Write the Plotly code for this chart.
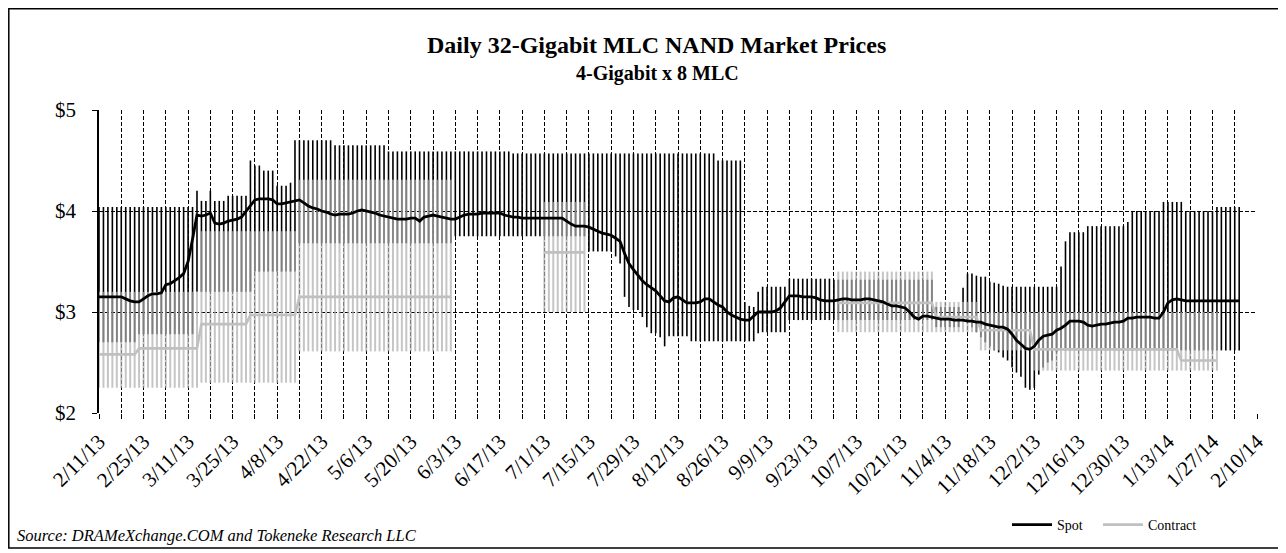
import pandas as pd
import plotly.graph_objects as go

# ---------------- data (one value per weekday, 2/11/13 .. 2/4/14) ----------------
dates = pd.bdate_range("2013-02-11", "2014-02-10")  # x categories (weekdays)

spot = [
    3.15, 3.15, 3.15, 3.15, 3.15,
    3.15, 3.13, 3.11, 3.10, 3.10,
    3.13, 3.16, 3.18, 3.18, 3.19,
    3.27, 3.28, 3.31, 3.34, 3.38,
    3.50, 3.72, 3.96, 3.95, 3.96,
    3.98, 3.88, 3.87, 3.88, 3.90,
    3.91, 3.92, 3.94, 4.00, 4.06,
    4.11, 4.12, 4.12, 4.12, 4.11,
    4.07, 4.07, 4.08, 4.09, 4.10,
    4.11, 4.08, 4.05, 4.03, 4.02,
    4.00, 3.99, 3.97, 3.96, 3.97,
    3.97, 3.97, 3.98, 4.00, 4.01,
    4.00, 3.99, 3.98, 3.96, 3.95,
    3.94, 3.93, 3.92, 3.92, 3.92,
    3.93, 3.93, 3.90, 3.94, 3.95,
    3.96, 3.95, 3.94, 3.93, 3.92,
    3.92, 3.94, 3.96, 3.97, 3.97,
    3.97, 3.98, 3.98, 3.98, 3.98,
    3.98, 3.96, 3.95, 3.94, 3.94,
    3.93, 3.93, 3.93, 3.93, 3.93,
    3.93, 3.93, 3.93, 3.93, 3.93,
    3.90, 3.87, 3.85, 3.85, 3.85,
    3.84, 3.82, 3.80, 3.78, 3.77,
    3.76, 3.73, 3.70, 3.58, 3.48,
    3.42, 3.36, 3.31, 3.27, 3.24,
    3.21, 3.16, 3.11, 3.10, 3.14,
    3.15, 3.12, 3.09, 3.09, 3.09,
    3.10, 3.13, 3.13, 3.10, 3.07,
    3.05, 3.00, 2.97, 2.95, 2.93,
    2.92, 2.92, 2.96, 3.00, 3.00,
    3.00, 3.00, 3.01, 3.04, 3.10,
    3.16, 3.16, 3.16, 3.15, 3.15,
    3.15, 3.14, 3.12, 3.11, 3.11,
    3.11, 3.12, 3.13, 3.13, 3.12,
    3.12, 3.12, 3.13, 3.13, 3.12,
    3.11, 3.10, 3.08, 3.06, 3.06,
    3.05, 3.04, 3.00, 2.95, 2.93,
    2.96, 2.96, 2.95, 2.94, 2.93,
    2.93, 2.93, 2.92, 2.92, 2.92,
    2.91, 2.91, 2.90, 2.90, 2.88,
    2.87, 2.86, 2.85, 2.85, 2.83,
    2.78, 2.72, 2.68, 2.64, 2.63,
    2.66, 2.72, 2.76, 2.77, 2.78,
    2.82, 2.84, 2.87, 2.91, 2.91,
    2.91, 2.90, 2.87, 2.86, 2.87,
    2.88, 2.88, 2.89, 2.90, 2.90,
    2.91, 2.94, 2.94, 2.95, 2.95,
    2.95, 2.95, 2.94, 2.94, 3.00,
    3.09, 3.12, 3.13, 3.12, 3.11,
    3.11, 3.11, 3.11, 3.11, 3.11,
    3.11, 3.11, 3.11, 3.11, 3.11,
    3.11, 3.11,
]

spot_high = [
    4.04, 4.04, 4.04, 4.04, 4.04,
    4.04, 4.04, 4.04, 4.04, 4.04,
    4.04, 4.04, 4.04, 4.04, 4.04,
    4.04, 4.04, 4.04, 4.04, 4.04,
    4.04, 4.04, 4.20, 4.10, 4.10,
    4.20, 4.10, 4.10, 4.10, 4.15,
    4.15, 4.15, 4.15, 4.15, 4.50,
    4.45, 4.45, 4.40, 4.40, 4.40,
    4.25, 4.25, 4.25, 4.28, 4.70,
    4.70, 4.70, 4.70, 4.70, 4.70,
    4.70, 4.70, 4.70, 4.65, 4.65,
    4.65, 4.65, 4.65, 4.65, 4.65,
    4.65, 4.65, 4.65, 4.65, 4.65,
    4.59, 4.59, 4.59, 4.59, 4.59,
    4.59, 4.59, 4.59, 4.59, 4.59,
    4.59, 4.59, 4.59, 4.59, 4.59,
    4.59, 4.59, 4.59, 4.59, 4.59,
    4.59, 4.59, 4.59, 4.59, 4.59,
    4.59, 4.59, 4.59, 4.57, 4.57,
    4.57, 4.57, 4.57, 4.57, 4.57,
    4.57, 4.57, 4.57, 4.57, 4.57,
    4.57, 4.57, 4.57, 4.57, 4.57,
    4.57, 4.57, 4.57, 4.57, 4.57,
    4.57, 4.57, 4.57, 4.57, 4.57,
    4.57, 4.57, 4.57, 4.57, 4.57,
    4.57, 4.57, 4.57, 4.57, 4.57,
    4.57, 4.57, 4.57, 4.57, 4.57,
    4.57, 4.57, 4.57, 4.57, 4.50,
    4.50, 4.50, 4.50, 4.50, 4.50,
    3.10, 3.06, 3.05, 3.20, 3.25,
    3.25, 3.25, 3.25, 3.25, 3.25,
    3.33, 3.33, 3.33, 3.33, 3.33,
    3.33, 3.33, 3.33, 3.33, 3.33,
    3.32, 3.32, 3.32, 3.32, 3.32,
    3.32, 3.32, 3.32, 3.32, 3.32,
    3.32, 3.32, 3.32, 3.32, 3.32,
    3.32, 3.32, 3.32, 3.32, 3.32,
    3.32, 3.32, 3.32, 3.05, 3.05,
    3.05, 3.05, 3.05, 3.05, 3.24,
    3.38, 3.38, 3.36, 3.35, 3.35,
    3.30, 3.29, 3.28, 3.26, 3.25,
    3.25, 3.25, 3.25, 3.25, 3.25,
    3.25, 3.25, 3.25, 3.25, 3.25,
    3.25, 3.45, 3.70, 3.79, 3.79,
    3.79, 3.79, 3.85, 3.85, 3.85,
    3.85, 3.85, 3.85, 3.85, 3.85,
    3.85, 3.89, 4.00, 4.00, 4.00,
    4.00, 4.00, 4.00, 4.00, 4.09,
    4.09, 4.09, 4.09, 4.09, 4.00,
    4.00, 4.00, 4.00, 4.00, 4.00,
    4.00, 4.04, 4.04, 4.04, 4.04,
    4.04, 4.04,
]

spot_low = [
    2.70, 2.70, 2.70, 2.70, 2.70,
    2.70, 2.70, 2.70, 2.70, 2.78,
    2.78, 2.78, 2.78, 2.78, 2.78,
    2.78, 2.78, 2.78, 2.78, 2.78,
    2.78, 2.78, 3.20, 3.20, 3.20,
    3.20, 3.20, 3.20, 3.20, 3.20,
    3.20, 3.20, 3.20, 3.20, 3.20,
    3.40, 3.40, 3.40, 3.40, 3.40,
    3.40, 3.40, 3.40, 3.40, 3.40,
    3.68, 3.68, 3.68, 3.68, 3.68,
    3.68, 3.68, 3.68, 3.68, 3.68,
    3.68, 3.68, 3.68, 3.68, 3.68,
    3.68, 3.68, 3.68, 3.68, 3.68,
    3.68, 3.68, 3.68, 3.68, 3.68,
    3.68, 3.68, 3.68, 3.68, 3.68,
    3.68, 3.68, 3.68, 3.68, 3.68,
    3.75, 3.75, 3.75, 3.75, 3.75,
    3.75, 3.75, 3.75, 3.75, 3.75,
    3.75, 3.75, 3.75, 3.75, 3.75,
    3.75, 3.75, 3.75, 3.75, 3.75,
    3.75, 3.75, 3.75, 3.75, 3.75,
    3.75, 3.75, 3.75, 3.75, 3.75,
    3.60, 3.60, 3.60, 3.60, 3.60,
    3.60, 3.55, 3.48, 3.15, 3.05,
    3.02, 3.02, 2.95, 2.85, 2.79,
    2.79, 2.75, 2.66, 2.76, 2.76,
    2.76, 2.76, 2.76, 2.71, 2.71,
    2.71, 2.71, 2.71, 2.71, 2.71,
    2.71, 2.71, 2.71, 2.71, 2.71,
    2.71, 2.71, 2.71, 2.79, 2.80,
    2.80, 2.80, 2.80, 2.80, 2.80,
    2.92, 2.92, 2.92, 2.92, 2.92,
    2.92, 2.92, 2.92, 2.92, 2.92,
    2.92, 2.92, 2.92, 2.92, 2.92,
    2.92, 2.92, 2.92, 2.92, 2.92,
    2.92, 2.92, 2.92, 2.92, 2.92,
    2.92, 2.92, 2.92, 2.92, 2.92,
    2.92, 2.92, 2.92, 2.85, 2.85,
    2.85, 2.85, 2.85, 2.85, 2.95,
    2.90, 2.85, 2.80, 2.75, 2.70,
    2.66, 2.62, 2.60, 2.55, 2.52,
    2.45, 2.40, 2.36, 2.25, 2.23,
    2.25, 2.38, 2.45, 2.50, 2.52,
    2.60, 2.62, 2.62, 2.62, 2.62,
    2.62, 2.62, 2.62, 2.62, 2.62,
    2.62, 2.62, 2.62, 2.62, 2.62,
    2.62, 2.62, 2.62, 2.62, 2.62,
    2.62, 2.62, 2.62, 2.62, 2.62,
    2.62, 2.62, 2.62, 2.62, 2.62,
    2.62, 2.62, 2.62, 2.62, 2.62,
    2.62, 2.62, 2.62, 2.62, 2.62,
    2.62, 2.62,
]

N = None
contract = [
    2.58, 2.58, 2.58, 2.58, 2.58,
    2.58, 2.58, 2.58, 2.58, 2.64,
    2.64, 2.64, 2.64, 2.64, 2.64,
    2.64, 2.64, 2.64, 2.64, 2.64,
    2.64, 2.64, 2.64, 2.88, 2.88,
    2.88, 2.88, 2.88, 2.88, 2.88,
    2.88, 2.88, 2.88, 2.88, 2.97,
    2.97, 2.97, 2.97, 2.97, 2.97,
    2.97, 2.97, 2.97, 2.97, 2.97,
    3.15, 3.15, 3.15, 3.15, 3.15,
    3.15, 3.15, 3.15, 3.15, 3.15,
    3.15, 3.15, 3.15, 3.15, 3.15,
    3.15, 3.15, 3.15, 3.15, 3.15,
    3.15, 3.15, 3.15, 3.15, 3.15,
    3.15, 3.15, 3.15, 3.15, 3.15,
    3.15, 3.15, 3.15, 3.15, 3.15,
    N, N, N, N, N,
    N, N, N, N, N,
    N, N, N, N, N,
    N, N, N, N, N,
    3.59, 3.59, 3.59, 3.59, 3.59,
    3.59, 3.59, 3.59, 3.59, 3.59,
    N, N, N, N, N,
    N, N, N, N, N,
    N, N, N, N, N,
    N, N, N, N, N,
    N, N, N, N, N,
    N, N, N, N, N,
    N, N, N, N, N,
    N, N, N, N, N,
    N, N, N, N, N,
    N, N, N, N, N,
    N, N, N, N, N,
    N, 3.09, 3.09, 3.09, 3.09,
    3.09, 3.09, 3.09, 3.09, 3.09,
    3.09, 3.09, 3.09, 3.09, 3.09,
    3.09, 3.09, 3.09, 3.09, 3.09,
    3.09, 3.09, 3.09, 2.95, 2.95,
    2.95, 2.95, 2.95, 2.95, 2.95,
    2.95, 2.95, 2.95, 2.82, 2.82,
    2.82, 2.82, 2.82, 2.82, 2.82,
    2.82, 2.82, 2.82, 2.82, 2.82,
    2.63, 2.63, 2.63, 2.63, 2.63,
    2.63, 2.63, 2.63, 2.63, 2.63,
    2.63, 2.63, 2.63, 2.63, 2.63,
    2.63, 2.63, 2.63, 2.63, 2.63,
    2.63, 2.63, 2.63, 2.63, 2.63,
    2.63, 2.63, 2.63, 2.63, 2.63,
    2.63, 2.63, 2.63, 2.52, 2.52,
    2.52, 2.52, 2.52, 2.52, 2.52,
    2.52, 2.52, N, N, N,
    N, N,
]

contract_high = [
    3.20, 3.20, 3.20, 3.20, 3.20,
    3.20, 3.20, 3.20, 3.20, 3.20,
    3.20, 3.20, 3.20, 3.20, 3.20,
    3.20, 3.20, 3.20, 3.20, 3.20,
    3.20, 3.20, 3.20, 3.80, 3.80,
    3.80, 3.80, 3.80, 3.80, 3.80,
    3.80, 3.80, 3.80, 3.80, 3.80,
    3.80, 3.80, 3.80, 3.80, 3.80,
    3.80, 3.80, 3.80, 3.80, 3.80,
    4.31, 4.31, 4.31, 4.31, 4.31,
    4.31, 4.31, 4.31, 4.31, 4.31,
    4.31, 4.31, 4.31, 4.31, 4.31,
    4.31, 4.31, 4.31, 4.31, 4.31,
    4.31, 4.31, 4.31, 4.31, 4.31,
    4.31, 4.31, 4.31, 4.31, 4.31,
    4.31, 4.31, 4.31, 4.31, 4.31,
    N, N, N, N, N,
    N, N, N, N, N,
    N, N, N, N, N,
    N, N, N, N, N,
    4.09, 4.09, 4.09, 4.09, 4.09,
    4.09, 4.09, 4.09, 4.09, 4.09,
    N, N, N, N, N,
    N, N, N, N, N,
    N, N, N, N, N,
    N, N, N, N, N,
    N, N, N, N, N,
    N, N, N, N, N,
    N, N, N, N, N,
    N, N, N, N, N,
    N, N, N, N, N,
    N, N, N, N, N,
    N, N, N, N, N,
    N, 3.40, 3.40, 3.40, 3.40,
    3.40, 3.40, 3.40, 3.40, 3.40,
    3.40, 3.40, 3.40, 3.40, 3.40,
    3.40, 3.40, 3.40, 3.40, 3.40,
    3.40, 3.40, 3.40, 3.10, 3.10,
    3.10, 3.10, 3.10, 3.10, 3.10,
    3.10, 3.10, 3.10, 3.00, 3.00,
    3.00, 3.00, 3.00, 3.00, 3.00,
    3.00, 3.00, 3.00, 3.00, 3.00,
    3.00, 3.00, 3.00, 3.00, 3.00,
    3.00, 3.00, 3.00, 3.00, 3.00,
    3.00, 3.00, 3.00, 3.00, 3.00,
    3.00, 3.00, 3.00, 3.00, 3.00,
    3.00, 3.00, 3.00, 3.00, 3.00,
    3.00, 3.00, 3.00, 3.00, 3.00,
    3.00, 3.00, 3.00, 3.00, 3.00,
    3.00, 3.00, 3.00, 3.00, 3.00,
    3.00, 3.00, N, N, N,
    N, N,
]

contract_low = [
    2.25, 2.25, 2.25, 2.25, 2.25,
    2.25, 2.25, 2.25, 2.25, 2.25,
    2.25, 2.25, 2.25, 2.25, 2.25,
    2.25, 2.25, 2.25, 2.25, 2.25,
    2.25, 2.25, 2.25, 2.30, 2.30,
    2.30, 2.30, 2.30, 2.30, 2.30,
    2.30, 2.30, 2.30, 2.30, 2.30,
    2.30, 2.30, 2.30, 2.30, 2.30,
    2.30, 2.30, 2.30, 2.30, 2.30,
    2.61, 2.61, 2.61, 2.61, 2.61,
    2.61, 2.61, 2.61, 2.61, 2.61,
    2.61, 2.61, 2.61, 2.61, 2.61,
    2.61, 2.61, 2.61, 2.61, 2.61,
    2.61, 2.61, 2.61, 2.61, 2.61,
    2.61, 2.61, 2.61, 2.61, 2.61,
    2.61, 2.61, 2.61, 2.61, 2.61,
    N, N, N, N, N,
    N, N, N, N, N,
    N, N, N, N, N,
    N, N, N, N, N,
    3.00, 3.00, 3.00, 3.00, 3.00,
    3.00, 3.00, 3.00, 3.00, 3.00,
    N, N, N, N, N,
    N, N, N, N, N,
    N, N, N, N, N,
    N, N, N, N, N,
    N, N, N, N, N,
    N, N, N, N, N,
    N, N, N, N, N,
    N, N, N, N, N,
    N, N, N, N, N,
    N, N, N, N, N,
    N, N, N, N, N,
    N, 2.80, 2.80, 2.80, 2.80,
    2.80, 2.80, 2.80, 2.80, 2.80,
    2.80, 2.80, 2.80, 2.80, 2.80,
    2.80, 2.80, 2.80, 2.80, 2.80,
    2.80, 2.80, 2.80, 2.80, 2.80,
    2.80, 2.80, 2.80, 2.80, 2.80,
    2.80, 2.80, 2.80, 2.62, 2.62,
    2.62, 2.62, 2.62, 2.62, 2.62,
    2.62, 2.62, 2.62, 2.62, 2.62,
    2.42, 2.42, 2.42, 2.42, 2.42,
    2.42, 2.42, 2.42, 2.42, 2.42,
    2.42, 2.42, 2.42, 2.42, 2.42,
    2.42, 2.42, 2.42, 2.42, 2.42,
    2.42, 2.42, 2.42, 2.42, 2.42,
    2.42, 2.42, 2.42, 2.42, 2.42,
    2.42, 2.42, 2.42, 2.42, 2.42,
    2.42, 2.42, 2.42, 2.42, 2.42,
    2.42, 2.42, N, N, N,
    N, N,
]

tick_labels = [
    "2/11/13", "2/25/13", "3/11/13", "3/25/13", "4/8/13", "4/22/13",
    "5/6/13", "5/20/13", "6/3/13", "6/17/13", "7/1/13", "7/15/13",
    "7/29/13", "8/12/13", "8/26/13", "9/9/13", "9/23/13", "10/7/13",
    "10/21/13", "11/4/13", "11/18/13", "12/2/13", "12/16/13", "12/30/13",
    "1/13/14", "1/27/14", "2/10/14",
]
y_ticks = [2, 3, 4, 5]
y_labels = ["$2", "$3", "$4", "$5"]

# ---------------- build traces ----------------
pos = list(range(len(dates)))          # category positions (weekdays)


def range_segments(lo, hi):
    xs, ys = [], []
    for i, (a, b) in enumerate(zip(lo, hi)):
        if a is None or b is None:
            continue
        xs += [pos[i], pos[i], None]
        ys += [a, b, None]
    return xs, ys


FONT = "Liberation Serif, Times New Roman, serif"
fig = go.Figure()

sx, sy = range_segments(spot_low, spot_high)
fig.add_trace(go.Scatter(x=sx, y=sy, mode="lines", showlegend=False, hoverinfo="skip",
                         line=dict(color="black", width=1.6)))
cx, cy = range_segments(contract_low, contract_high)
fig.add_trace(go.Scatter(x=cx, y=cy, mode="lines", showlegend=False, hoverinfo="skip",
                         opacity=0.72, line=dict(color="rgb(176,176,176)", width=2)))
fig.add_trace(go.Scatter(x=pos[:len(contract)], y=contract, mode="lines", name="Contract",
                         legend="legend2", connectgaps=False,
                         line=dict(color="rgb(192,192,192)", width=2.6)))
fig.add_trace(go.Scatter(x=pos[:len(spot)], y=spot, mode="lines", name="Spot",
                         legend="legend", line=dict(color="black", width=2.8)))

tickvals = pos[::5]
ticktext = []
for k in range(len(tickvals)):
    ticktext.append(tick_labels[k // 2] if k % 2 == 0 else "")

# page body has an 8px margin: screen position = figure position + 8
OFF = 8
W, H = 1286, 553
PL, PR, PT, PB = 99, 1257, 110, 413          # plot area in screen pixels
L, T = PL - OFF, PT - OFF
R, B = W - (PR - OFF), H - (PB - OFF)
pw, ph = W - L - R, H - T - B


def px(x):
    return (x - OFF - L) / pw


def py(y):
    return (H - B - (y - OFF)) / ph


DASH = "4px,2px"
fig.update_xaxes(range=[0, len(dates) - 1], tickmode="array", tickvals=tickvals, ticktext=ticktext,
                 tickangle=-45, tickfont=dict(family=FONT, size=21, color="black"),
                 ticklabelstandoff=2,
                 showgrid=True, gridcolor="black", gridwidth=1, griddash=DASH,
                 ticks="outside", ticklen=5, tickcolor="black", tickwidth=1,
                 showline=False, zeroline=False, automargin=False)
fig.update_yaxes(range=[2, 5], tickmode="array", tickvals=y_ticks, ticktext=y_labels,
                 tickfont=dict(family=FONT, size=21, color="black"), ticklabelstandoff=12,
                 showgrid=True, gridcolor="black", gridwidth=1, griddash=DASH,
                 ticks="outside", ticklen=5, tickcolor="black", tickwidth=1,
                 showline=True, linecolor="black", linewidth=1.5, zeroline=False,
                 automargin=False)

LEG = dict(orientation="h", xref="container", yref="container", xanchor="left",
           yanchor="middle", font=dict(family=FONT, size=14, color="black"),
           bgcolor="rgba(0,0,0,0)", itemwidth=40)

fig.update_layout(
    width=W, height=H, margin=dict(l=L, r=R, t=T, b=B, pad=0, autoexpand=False),
    paper_bgcolor="white", plot_bgcolor="white",
    font=dict(family=FONT, color="black"),
    showlegend=True,
    legend=dict(LEG, x=(1007 - OFF) / W, y=1 - (525 - OFF) / H),
    legend2=dict(LEG, x=(1098 - OFF) / W, y=1 - (525 - OFF) / H),
    annotations=[
        dict(text="<b>Daily 32-Gigabit MLC NAND Market Prices</b>", xref="paper", yref="paper",
             x=px(656), y=py(45), xanchor="center", yanchor="middle", showarrow=False,
             font=dict(family=FONT, size=24, color="black")),
        dict(text="<b>4-Gigabit x 8 MLC</b>", xref="paper", yref="paper",
             x=px(657), y=py(74), xanchor="center", yanchor="middle", showarrow=False,
             font=dict(family=FONT, size=20, color="black")),
        dict(text="<i>Source: DRAMeXchange.COM and Tokeneke Research LLC</i>", xref="paper",
             yref="paper", x=px(15), y=py(535), xanchor="left", yanchor="middle",
             showarrow=False, font=dict(family=FONT, size=16.5, color="black")),
    ],
    shapes=[
        dict(type="rect", xref="paper", yref="paper", x0=px(8.8), x1=px(1282.5),
             y0=py(548), y1=py(8.8), line=dict(color="black", width=1.5)),
    ],
)

fig.write_html("out.html")
